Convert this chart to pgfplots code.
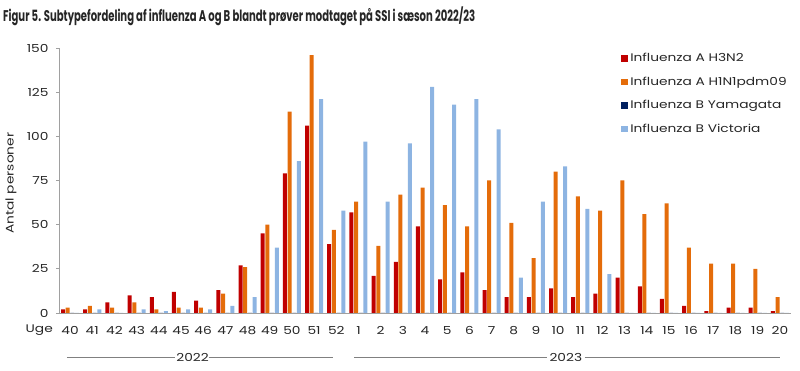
\documentclass[border=0pt]{standalone}
\usepackage{fontspec}
\usepackage{graphicx}
\setmainfont{Poppins}
\newfontfamily\cg[FakeStretch=1.25]{Poppins}
\usepackage{pgfplots}
\usepackage{pgfplotstable}
\pgfplotsset{compat=1.18}
\definecolor{cHthree}{HTML}{C00000}
\definecolor{cHone}{HTML}{E46C0A}
\definecolor{cYam}{HTML}{002060}
\definecolor{cVic}{HTML}{8DB4E2}
\definecolor{axgray}{HTML}{A0A0A0}
\definecolor{txt}{HTML}{262626}
\pgfplotstableread{
x H3 H1 Yam Vic
0 2 3 0 0
1 2 4 0 2
2 6 3 0 0
3 10 6 0 2
4 9 2 0 1
5 12 3 0 2
6 7 3 0 2
7 13 11 0 4
8 27 26 0 9
9 45 50 0 37
10 79 114 0 86
11 106 146 0 121
12 39 47 0 58
13 57 63 0 97
14 21 38 0 63
15 29 67 0 96
16 49 71 0 128
17 19 61 0 118
18 23 49 0 121
19 13 75 0 104
20 9 51 0 20
21 9 31 0 63
22 14 80 0 83
23 9 66 0 59
24 11 58 0 22
25 20 75 0 0
26 15 56 0 0
27 8 62 0 0
28 4 37 0 0
29 1 28 0 0
30 3 28 0 0
31 3 25 0 0
32 1 9 0 0
}\data
\begin{document}
\begin{tikzpicture}[x=1pt,y=1pt]
\useasboundingbox (0,0) rectangle (800,371);
\node[anchor=base west,inner sep=0pt,text=txt] at (3,349) {\resizebox{472pt}{\height}{\rmfamily\bfseries\fontsize{15.5}{18}\selectfont Figur 5. Subtypefordeling af influenza A og B blandt prøver modtaget på SSI i sæson 2022/23}};
\begin{axis}[
  at={(59pt,58pt)}, anchor=south west,
  scale only axis, width=732pt, height=265pt,
  xmin=-0.5, xmax=32.5, ymin=0, ymax=150,
  axis lines*=left,
  axis line style={axgray, line width=0.9pt},
  clip=false,
  ytick={0,25,...,150},
  xtick={0,...,32},
  xticklabels={40,41,42,43,44,45,46,47,48,49,50,51,52,1,2,3,4,5,6,7,8,9,10,11,12,13,14,15,16,17,18,19,20},
  minor xtick={-0.5,0.5,...,32.5},
  tick align=outside,
  x tick style={draw=none},
  minor x tick style={axgray, line width=0.9pt},
  minor tick length=3.3pt,
  y tick style={axgray, line width=0.9pt},
  major tick length=3pt,
  tick label style={font=\cg\fontsize{11}{13}\selectfont, text=txt},
  /pgf/number format/assume math mode=true,
  xticklabel style={yshift=-7pt},
  yticklabel style={xshift=-4pt},
  legend style={at={(rel axis cs:0.764,0.995)}, anchor=north west, draw=none, fill=none,
    font=\cg\fontsize{11}{13}\selectfont, text=txt, row sep=9.6pt,
    /tikz/every even column/.append style={column sep=4pt}},
  legend cell align=left,
  legend image code/.code={\fill[#1] (0pt,-3.4pt) rectangle (6.8pt,3.4pt);},
]
\addplot[ybar, bar width=0.18, bar shift=-0.317, fill=cHthree, draw=none] table[x=x,y=H3] {\data};
\addplot[ybar, bar width=0.18, bar shift=-0.106, fill=cHone, draw=none] table[x=x,y=H1] {\data};
\addplot[ybar, bar width=0.18, bar shift=0.106, fill=cYam, draw=none] table[x=x,y=Yam] {\data};
\addplot[ybar, bar width=0.18, bar shift=0.317, fill=cVic, draw=none] table[x=x,y=Vic] {\data};
\legend{Influenza A H3N2, Influenza A H1N1pdm09, Influenza B Yamagata, Influenza B Victoria}
\node[rotate=90, text=txt, font=\cg\fontsize{11}{13}\selectfont, inner sep=0pt] at ([xshift=-48pt]rel axis cs:0,0.49) {Antal personer};
\node[anchor=east, text=txt, font=\cg\fontsize{11}{13}\selectfont, inner sep=0pt] at ([xshift=-6pt,yshift=-17.5pt]axis cs:-0.5,0) {Uge};
\draw[gray, line width=0.8pt] ([yshift=-44pt]axis cs:-0.14,0) -- ([yshift=-44pt]axis cs:4.75,0);
\draw[gray, line width=0.8pt] ([yshift=-44pt]axis cs:6.25,0) -- ([yshift=-44pt]axis cs:11.87,0);
\node[text=txt, font=\cg\fontsize{11}{13}\selectfont, inner sep=0pt] at ([yshift=-44pt]axis cs:5.52,0) {2022};
\draw[gray, line width=0.8pt] ([yshift=-44pt]axis cs:12.8,0) -- ([yshift=-44pt]axis cs:21.5,0);
\draw[gray, line width=0.8pt] ([yshift=-44pt]axis cs:23.2,0) -- ([yshift=-44pt]axis cs:32.0,0);
\node[text=txt, font=\cg\fontsize{11}{13}\selectfont, inner sep=0pt] at ([yshift=-44pt]axis cs:22.35,0) {2023};
\end{axis}
\end{tikzpicture}
\end{document}
